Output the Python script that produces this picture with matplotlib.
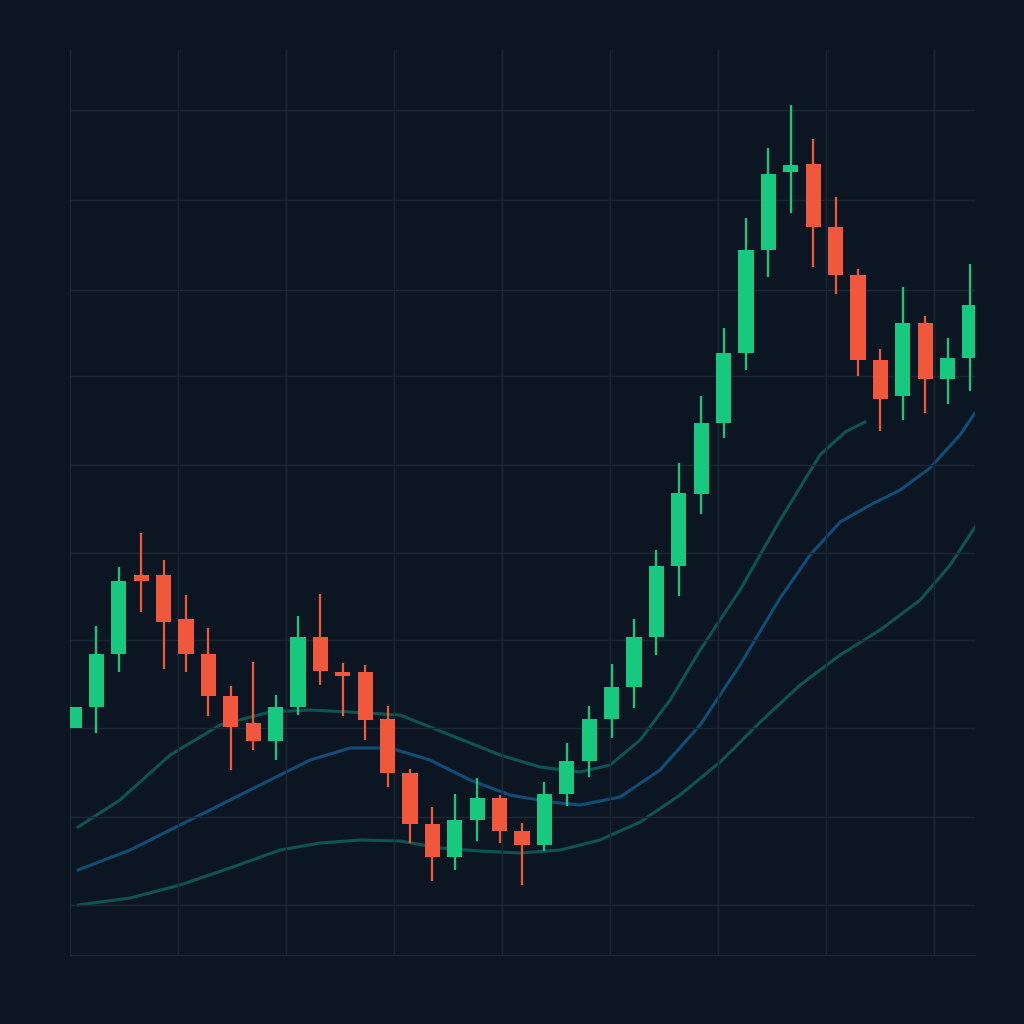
import matplotlib
matplotlib.use("Agg")
import matplotlib.pyplot as plt
import numpy as np

# OHLC values (price units)
opens  = [272,293,346,425,425,381,346,304,277,259,293,363,327,328,281,227,176,143,180,202,169,155,206,239,281,313,363,434,506,577,647,750,828,836,773,725,640,604,677,621,642]
closes = [293,346,419,419,378,346,304,273,259,293,363,329,324,280,227,176,143,180,202,169,155,206,239,281,313,363,434,507,577,647,750,826,835,773,725,640,601,677,621,642,695]
highs  = [293,374,433,467,440,405,372,314,338,305,384,406,337,335,294,231,193,206,222,205,177,218,257,294,336,381,450,537,604,672,782,852,895,861,803,731,651,713,684,662,736]
lows   = [272,267,328,388,331,328,284,230,250,240,285,315,284,260,213,157,119,130,159,157,115,149,194,223,262,292,345,404,486,562,630,723,787,733,706,624,569,580,587,596,609]

# moving-average style bands: x in candle index, y in price units
band1_x = [0.18,2.05,4.29,6.52,8.75,10.54,12.32,14.55,16.79,19.02,20.8,22.59,23.93,25.27,26.61,27.95,29.73,31.52,33.3,34.42,35.31]
band1_y = [173,200,245,275,288,290,288,285,265,245,233,228,235,260,300,350,410,480,545,568,578]
band2_x = [0.18,2.5,4.73,6.96,8.75,10.54,12.32,14.11,15.89,17.68,19.46,21.25,22.59,24.38,26.16,27.95,29.73,31.52,32.86,34.2,35.54,36.88,38.21,39.55,40.22]
band2_y = [130,150,175,200,220,240,252,252,240,220,205,198,195,203,230,275,335,402,445,478,495,510,532,565,587]
band3_x = [0.18,2.5,4.73,6.96,9.2,10.98,12.77,14.55,16.34,18.13,19.91,21.7,23.48,25.27,27.05,28.84,30.63,32.41,34.2,35.98,37.77,39.11,40.22]
band3_y = [95,102,115,132,150,157,160,159,152,149,147,150,160,178,205,238,278,315,345,370,400,435,473]

bull, bear = "#17c97f", "#f0573b"
bg = "#0b1622"

fig = plt.figure(figsize=(10.24, 10.24), dpi=100, facecolor=bg)
ax = fig.add_axes([70/1024, 69/1024, 905/1024, 905/1024], facecolor=bg)

ax.plot(band3_x, band3_y, color="#0d5553", lw=2.2, zorder=1)
ax.plot(band2_x, band2_y, color="#0f4e78", lw=2.2, zorder=1)
ax.plot(band1_x, band1_y, color="#0d5553", lw=2.2, zorder=1)

idx = np.arange(len(opens))
for i, o, c, h, l in zip(idx, opens, closes, highs, lows):
    col = bull if c >= o else bear
    ax.vlines(i, l, h, color=col, lw=1.6, zorder=2)
    bottom = min(o, c)
    height = max(abs(c - o), 4)
    ax.bar(i, height, bottom=bottom, width=0.68, color=col, zorder=3)

ax.set_xlim(-0.18, 40.22)
ax.set_ylim(45, 950)
ax.set_xticks(4.64 + 4.82 * np.arange(8))
ax.set_yticks([95,183,272,360,447,535,624,710,800,890])
ax.tick_params(length=0, labelbottom=False, labelleft=False)
ax.grid(True, color="#1b2636", lw=1)
for s in ["top", "right"]:
    ax.spines[s].set_visible(False)
for s in ["left", "bottom"]:
    ax.spines[s].set_color("#1f2a3a")

fig.savefig("out.png", dpi=100, facecolor=bg)
